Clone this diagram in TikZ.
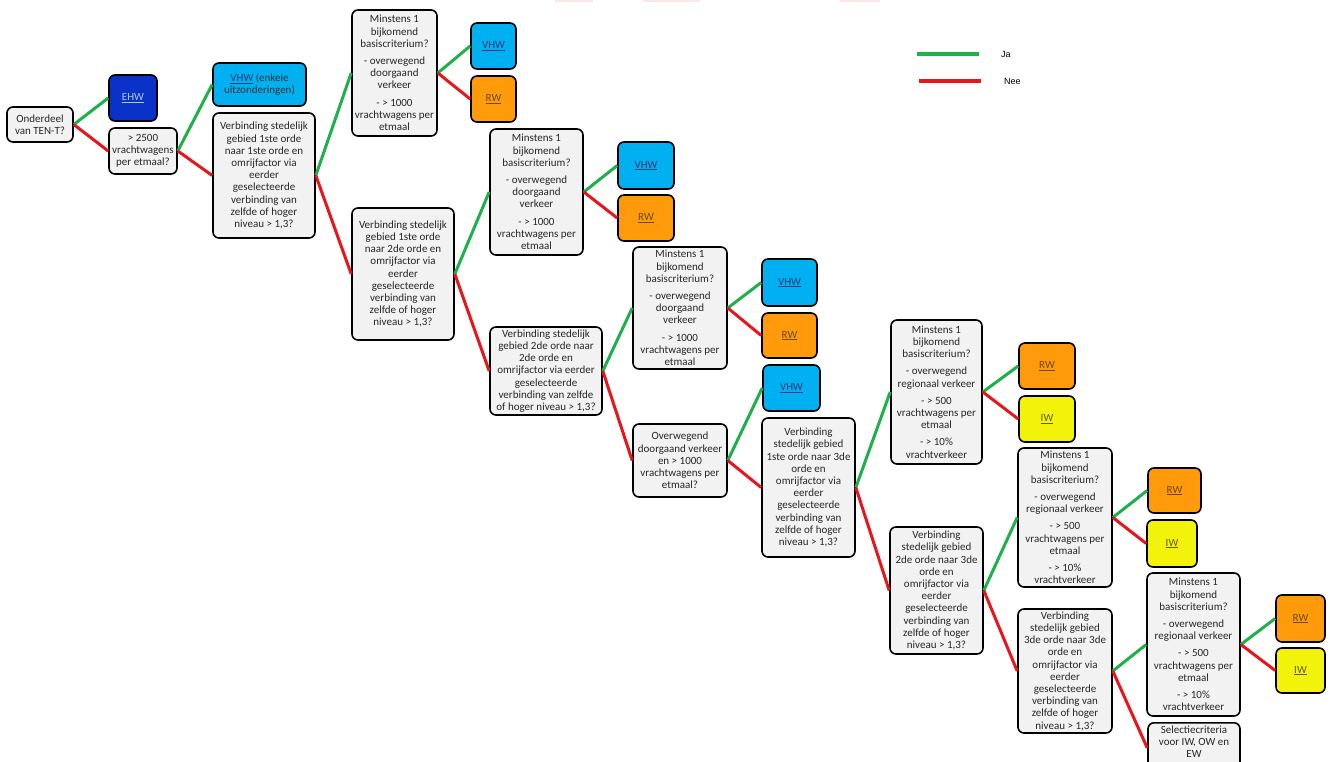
\documentclass[tikz,border=0pt]{standalone}
\usepackage{fontspec}
\setmainfont{Carlito}
\newfontfamily\legendfont{Liberation Sans}
\definecolor{boxgray}{HTML}{F2F2F2}
\definecolor{ehwblue}{HTML}{0A32C8}
\definecolor{ehwtext}{HTML}{A9C8F0}
\definecolor{vhwblue}{HTML}{00B0F0}
\definecolor{vhwtext}{HTML}{1F3A7A}
\definecolor{rworange}{HTML}{FF9A0A}
\definecolor{rwtext}{HTML}{6A4A12}
\definecolor{iwyellow}{HTML}{F2F20A}
\definecolor{iwtext}{HTML}{5E5E10}
\definecolor{yesgreen}{HTML}{1DB04B}
\definecolor{nored}{HTML}{E8161B}
\definecolor{pinkmark}{HTML}{FDE6E6}
\tikzset{
  box/.style={draw=black, line width=1.6pt, rounded corners=6pt, fill=boxgray,
    align=center, inner sep=1pt, text=black!85,
    font=\fontsize{11}{12.2}\selectfont},
  ehwbox/.style={box, fill=ehwblue, text=ehwtext},
  vhwbox/.style={box, fill=vhwblue, text=vhwtext},
  rwbox/.style={box, fill=rworange, text=rwtext},
  iwbox/.style={box, fill=iwyellow, text=iwtext},
  yes/.style={draw=yesgreen, line width=3pt},
  no/.style={draw=nored, line width=3pt},
  legendtext/.style={anchor=west, inner sep=0pt, font=\legendfont\fontsize{9}{10}\selectfont}
}
\begin{document}
\begin{tikzpicture}[x=1pt,y=-1pt]
\useasboundingbox (0,0) rectangle (1330,762);
\clip (0,0) rectangle (1330,762);
\fill[white] (0,0) rectangle (1330,762);
% faint marks at top edge
\fill[pinkmark] (555,0) rectangle (593,2);
\fill[pinkmark] (643,0) rectangle (700,2);
\fill[pinkmark] (840,0) rectangle (880,2);

% nodes
\node[box, minimum width=66pt, minimum height=35pt] (ten) at (40,124.5) {Onderdeel\\van TEN-T?};
\node[ehwbox, minimum width=48pt, minimum height=46pt] (ehw) at (133,98) {\underline{EHW}};
\node[box, minimum width=68pt, minimum height=46pt] (q2500) at (143,151) {> 2500\\vrachtwagens\\per etmaal?};
\node[vhwbox, minimum width=93pt, minimum height=43pt] (vhwa) at (259.5,84.5) {\underline{VHW} {\color{black!80}(enkele}\\{\color{black!80}uitzonderingen)}};
\node[box, minimum width=102pt, minimum height=125pt] (v11) at (264,175.5) {Verbinding stedelijk\\gebied 1ste orde\\naar 1ste orde en\\omrijfactor via\\eerder\\geselecteerde\\verbinding van\\zelfde of hoger\\niveau > 1,3?};
\node[box, minimum width=85pt, minimum height=126pt] (m1) at (394.5,73) {Minstens 1\\bijkomend\\basiscriterium?\\[5pt]- overwegend\\doorgaand\\verkeer\\[5pt]- > 1000\\vrachtwagens per\\etmaal};
\node[vhwbox, minimum width=45pt, minimum height=46pt] (vhwb) at (493.5,46) {\underline{VHW}};
\node[rwbox, minimum width=45pt, minimum height=46pt] (rwb) at (493.5,99) {\underline{RW}};
\node[box, minimum width=102pt, minimum height=132pt] (v12) at (403,274) {Verbinding stedelijk\\gebied 1ste orde\\naar 2de orde en\\omrijfactor via\\eerder\\geselecteerde\\verbinding van\\zelfde of hoger\\niveau > 1,3?};
\node[box, minimum width=93pt, minimum height=126pt] (m2) at (536.5,192) {Minstens 1\\bijkomend\\basiscriterium?\\[5pt]- overwegend\\doorgaand\\verkeer\\[5pt]- > 1000\\vrachtwagens per\\etmaal};
\node[vhwbox, minimum width=56pt, minimum height=47pt] (vhwc) at (646,165.5) {\underline{VHW}};
\node[rwbox, minimum width=56pt, minimum height=46pt] (rwc) at (646,218) {\underline{RW}};
\node[box, minimum width=112pt, minimum height=88pt] (v22) at (546,371) {Verbinding stedelijk\\gebied 2de orde naar\\2de orde en\\omrijfactor via eerder\\geselecteerde\\verbinding van zelfde\\of hoger niveau > 1,3?};
\node[box, minimum width=94pt, minimum height=122pt] (m3) at (680,308) {Minstens 1\\bijkomend\\basiscriterium?\\[5pt]- overwegend\\doorgaand\\verkeer\\[5pt]- > 1000\\vrachtwagens per\\etmaal};
\node[vhwbox, minimum width=55pt, minimum height=47pt] (vhwd) at (789.5,282.5) {\underline{VHW}};
\node[rwbox, minimum width=55pt, minimum height=45pt] (rwd) at (789.5,335.5) {\underline{RW}};
\node[vhwbox, minimum width=57pt, minimum height=46pt] (vhwe) at (791.5,388) {\underline{VHW}};
\node[box, minimum width=94pt, minimum height=73pt] (od) at (680,460.5) {Overwegend\\doorgaand verkeer\\en > 1000\\vrachtwagens per\\etmaal?};
\node[box, minimum width=93pt, minimum height=139pt] (v13) at (808.5,487.5) {Verbinding\\stedelijk gebied\\1ste orde naar 3de\\orde en\\omrijfactor via\\eerder\\geselecteerde\\verbinding van\\zelfde of hoger\\niveau > 1,3?};
\node[box, minimum width=91pt, minimum height=144pt] (m4) at (936.5,392) {Minstens 1\\bijkomend\\basiscriterium?\\[5pt]- overwegend\\regionaal verkeer\\[5pt]- > 500\\vrachtwagens per\\etmaal\\[5pt]- > 10\%\\vrachtverkeer};
\node[rwbox, minimum width=56pt, minimum height=46pt] (rwf) at (1047,366) {\underline{RW}};
\node[iwbox, minimum width=56pt, minimum height=46pt] (iwf) at (1047,419) {\underline{IW}};
\node[box, minimum width=93pt, minimum height=127pt] (v23) at (936.5,590.5) {Verbinding\\stedelijk gebied\\2de orde naar 3de\\orde en\\omrijfactor via\\eerder\\geselecteerde\\verbinding van\\zelfde of hoger\\niveau > 1,3?};
\node[box, minimum width=94pt, minimum height=139pt] (m5) at (1065,517.5) {Minstens 1\\bijkomend\\basiscriterium?\\[5pt]- overwegend\\regionaal verkeer\\[5pt]- > 500\\vrachtwagens per\\etmaal\\[5pt]- > 10\%\\vrachtverkeer};
\node[rwbox, minimum width=53pt, minimum height=45pt] (rwg) at (1174.5,490.5) {\underline{RW}};
\node[iwbox, minimum width=50pt, minimum height=47pt] (iwg) at (1172,543.5) {\underline{IW}};
\node[box, minimum width=94pt, minimum height=124pt] (v33) at (1065,671) {Verbinding\\stedelijk gebied\\3de orde naar 3de\\orde en\\omrijfactor via\\eerder\\geselecteerde\\verbinding van\\zelfde of hoger\\niveau > 1,3?};
\node[box, minimum width=93pt, minimum height=143pt] (m6) at (1193.5,644.5) {Minstens 1\\bijkomend\\basiscriterium?\\[5pt]- overwegend\\regionaal verkeer\\[5pt]- > 500\\vrachtwagens per\\etmaal\\[5pt]- > 10\%\\vrachtverkeer};
\node[rwbox, minimum width=49pt, minimum height=47pt] (rwh) at (1300.5,618.5) {\underline{RW}};
\node[iwbox, minimum width=49pt, minimum height=45pt] (iwh) at (1300.5,670.5) {\underline{IW}};
\node[box, minimum width=92pt, minimum height=50pt, anchor=north] (sel) at (1194,722) {Selectiecriteria\\voor IW, OW en\\EW\\ };

% connectors
\draw[yes] (ten.east) -- (ehw.west);
\draw[no] (ten.east) -- (q2500.west);
\draw[yes] (q2500.east) -- (vhwa.west);
\draw[no] (q2500.east) -- (v11.west);
\draw[yes] (v11.east) -- (m1.west);
\draw[no] (v11.east) -- (v12.west);
\draw[yes] (m1.east) -- (vhwb.west);
\draw[no] (m1.east) -- (rwb.west);
\draw[yes] (v12.east) -- (m2.west);
\draw[no] (v12.east) -- (v22.west);
\draw[yes] (m2.east) -- (vhwc.west);
\draw[no] (m2.east) -- (rwc.west);
\draw[yes] (v22.east) -- (m3.west);
\draw[no] (v22.east) -- (od.west);
\draw[yes] (m3.east) -- (vhwd.west);
\draw[no] (m3.east) -- (rwd.west);
\draw[yes] (od.east) -- (vhwe.west);
\draw[no] (od.east) -- (v13.west);
\draw[yes] (v13.east) -- (m4.west);
\draw[no] (v13.east) -- (v23.west);
\draw[yes] (m4.east) -- (rwf.west);
\draw[no] (m4.east) -- (iwf.west);
\draw[yes] (v23.east) -- (m5.west);
\draw[no] (v23.east) -- (v33.west);
\draw[yes] (m5.east) -- (rwg.west);
\draw[no] (m5.east) -- (iwg.west);
\draw[yes] (v33.east) -- (m6.west);
\draw[no] (v33.east) -- (sel.west);
\draw[yes] (m6.east) -- (rwh.west);
\draw[no] (m6.east) -- (iwh.west);

% legend
\coordinate (ja1) at (917,54);
\coordinate (ja2) at (979,54);
\coordinate (nee1) at (919,81);
\coordinate (nee2) at (981,81);
\draw[draw=yesgreen, line width=4pt] (ja1) -- (ja2);
\draw[draw=nored, line width=4pt] (nee1) -- (nee2);
\node[legendtext] (ja) at (1001,54) {Ja};
\node[legendtext] (nee) at (1004,81) {Nee};
\end{tikzpicture}
\end{document}
